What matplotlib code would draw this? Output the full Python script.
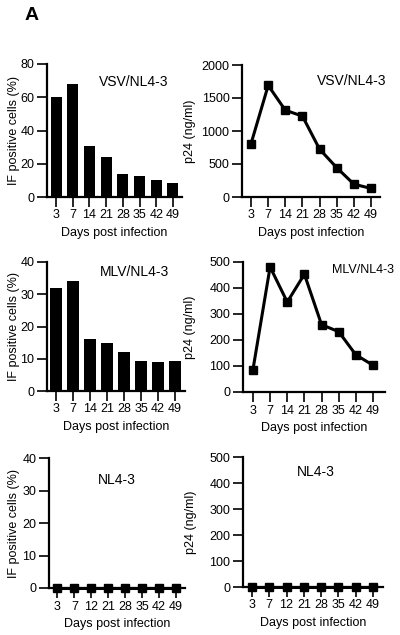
import numpy as np
import matplotlib
matplotlib.use('Agg')
import matplotlib.pyplot as plt

plt.rcParams['font.family'] = ['Liberation Sans', 'DejaVu Sans']

# Data
days_a = ['3', '7', '14', '21', '28', '35', '42', '49']
days_c = ['3', '7', '12', '21', '28', '35', '42', '49']

vsv_if = [60, 68, 30.5, 24, 14, 12.5, 10, 8.5]
vsv_p24 = [810, 1690, 1315, 1225, 725, 445, 195, 130]
mlv_if = [32, 34, 16, 15, 12, 9.2, 9.1, 9.2]
mlv_p24 = [86, 481, 346, 453, 259, 232, 143, 103]
nl43_if = [0, 0, 0, 0, 0, 0, 0, 0]
nl43_p24 = [0, 0, 0, 0, 0, 0, 0, 0]

W, H = 400, 635
fig = plt.figure(figsize=(W / 100, H / 100), dpi=100)


def make_axes(left, right, top, bottom):
    return fig.add_axes([left / W, 1 - bottom / H, (right - left) / W, (bottom - top) / H])


def style(ax, ylim, yticks, labels, xlim, ylabel):
    ax.set_ylim(*ylim)
    ax.set_yticks(yticks)
    ax.set_xlim(*xlim)
    ax.set_xticks(range(len(labels)))
    ax.set_xticklabels(labels)
    for s in ['top', 'right']:
        ax.spines[s].set_visible(False)
    for s in ['left', 'bottom']:
        ax.spines[s].set_linewidth(1.6)
    ax.tick_params(direction='out', length=7, width=1.2, labelsize=9, pad=2)
    ax.set_xlabel('Days post infection', fontsize=9, labelpad=4)
    ax.set_ylabel(ylabel, fontsize=9)


def px_text(x, y, s, size=10, **kw):
    fig.text(x / W, 1 - y / H, s, fontsize=size, va='center', **kw)


x = np.arange(len(days_a))

# Top left
ax = make_axes(47, 182, 64, 197)
ax.bar(x, vsv_if, width=0.66, color='black')
style(ax, (0, 80), [0, 20, 40, 60, 80], days_a, (-0.54, 7.54), 'IF positive cells (%)')
ax.yaxis.set_label_coords(-0.20, 0.5)
px_text(99, 82, 'VSV/NL4-3')

# Top right
ax = make_axes(242, 380, 65, 197)
ax.plot(x, vsv_p24, color='black', lw=2.2, marker='s', ms=6, clip_on=False)
style(ax, (0, 2000), [0, 500, 1000, 1500, 2000], days_a, (-0.53, 7.53), 'p24 (ng/ml)')
ax.yaxis.set_label_coords(-0.333, 0.5)
px_text(317, 81, 'VSV/NL4-3')

# Middle left
ax = make_axes(47, 185, 262, 391)
ax.bar(x, mlv_if, width=0.66, color='black')
style(ax, (0, 40), [0, 10, 20, 30, 40], days_a, (-0.53, 7.59), 'IF positive cells (%)')
ax.yaxis.set_label_coords(-0.196, 0.5)
px_text(100, 272, 'MLV/NL4-3')

# Middle right
ax = make_axes(243, 385, 262, 392)
ax.plot(x, mlv_p24, color='black', lw=2.2, marker='s', ms=6, clip_on=False)
style(ax, (0, 500), [0, 100, 200, 300, 400, 500], days_a, (-0.58, 7.7), 'p24 (ng/ml)')
ax.yaxis.set_label_coords(-0.33, 0.5)
px_text(332, 270, 'MLV/NL4-3', size=9)

# Bottom left
ax = make_axes(49, 185, 458, 588)
ax.plot(x, nl43_if, color='black', lw=2.2, marker='s', ms=6, clip_on=False)
style(ax, (0, 40), [0, 10, 20, 30, 40], days_c, (-0.5, 7.53), 'IF positive cells (%)')
ax.yaxis.set_label_coords(-0.21, 0.5)
px_text(98, 480, 'NL4-3')

# Bottom right
ax = make_axes(243, 383, 457, 587)
ax.plot(x, nl43_p24, color='black', lw=2.2, marker='s', ms=6, clip_on=False)
style(ax, (0, 500), [0, 100, 200, 300, 400, 500], days_c, (-0.52, 7.58), 'p24 (ng/ml)')
ax.yaxis.set_label_coords(-0.33, 0.5)
px_text(297, 472, 'NL4-3')

px_text(25, 15, 'A', size=14, fontweight='bold')

fig.savefig('out.png', dpi=100)
